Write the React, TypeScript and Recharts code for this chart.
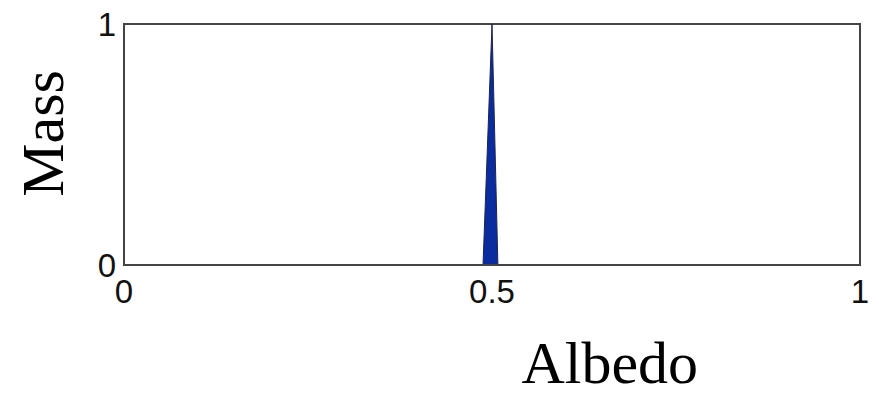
import { Area, AreaChart, Label, ReferenceArea, XAxis, YAxis } from "recharts";

// albedo positions of the spike and its mass
const albedo = [0.4878, 0.5, 0.508];
const mass = [0, 1, 0];
const xTicks = [0, 0.5, 1];
const yTicks = [0, 1];

const data = albedo.map((a, i) => ({ albedo: a, mass: mass[i] }));

const tickStyle = { fontFamily: "Liberation Sans, Arial, sans-serif", fontSize: 33, fill: "#111" };
const titleFont = "Liberation Serif, Times New Roman, serif";

export default function App() {
  return (
    <div style={{ position: "absolute", left: 0, top: 0, width: 879, height: 397, background: "#fff" }}>
      <AreaChart width={879} height={397} data={data} margin={{ top: 24, right: 19, bottom: 0, left: 0 }}>
        <XAxis
          dataKey="albedo"
          type="number"
          domain={[0, 1]}
          ticks={xTicks}
          tickLine={false}
          tickMargin={9}
          height={132}
          axisLine={{ stroke: "#444", strokeWidth: 2 }}
          tick={tickStyle}
          tickFormatter={(v: number) => String(v)}
        >
          <Label
            content={(p: any) => {
              const vb = p.viewBox;
              return (
                <text x={vb.x + vb.width * 0.66} y={vb.y + vb.height - 14} textAnchor="middle" fontFamily={titleFont} fontSize={60} fill="#000">
                  Albedo
                </text>
              );
            }}
          />
        </XAxis>
        <YAxis
          type="number"
          domain={[0, 1]}
          ticks={yTicks}
          width={124}
          tickLine={false}
          axisLine={{ stroke: "#444", strokeWidth: 2 }}
          tick={tickStyle}
        >
          <Label
            content={(p: any) => {
              const vb = p.viewBox;
              const cy = vb.y + vb.height / 2 - 11;
              return (
                <text x={63} y={cy} transform={`rotate(-90 63 ${cy})`} textAnchor="middle" fontFamily={titleFont} fontSize={60} fill="#000">
                  Mass
                </text>
              );
            }}
          />
        </YAxis>
        <ReferenceArea x1={0} x2={1} y1={0} y2={1} fill="none" stroke="#444" strokeWidth={2} ifOverflow="visible" />
        <Area
          type="linear"
          dataKey="mass"
          stroke="#1c2550"
          strokeWidth={1}
          fill="#0a2c9e"
          fillOpacity={1}
          baseValue={0}
          dot={false}
          activeDot={false}
          isAnimationActive={false}
        />
      </AreaChart>
    </div>
  );
}
